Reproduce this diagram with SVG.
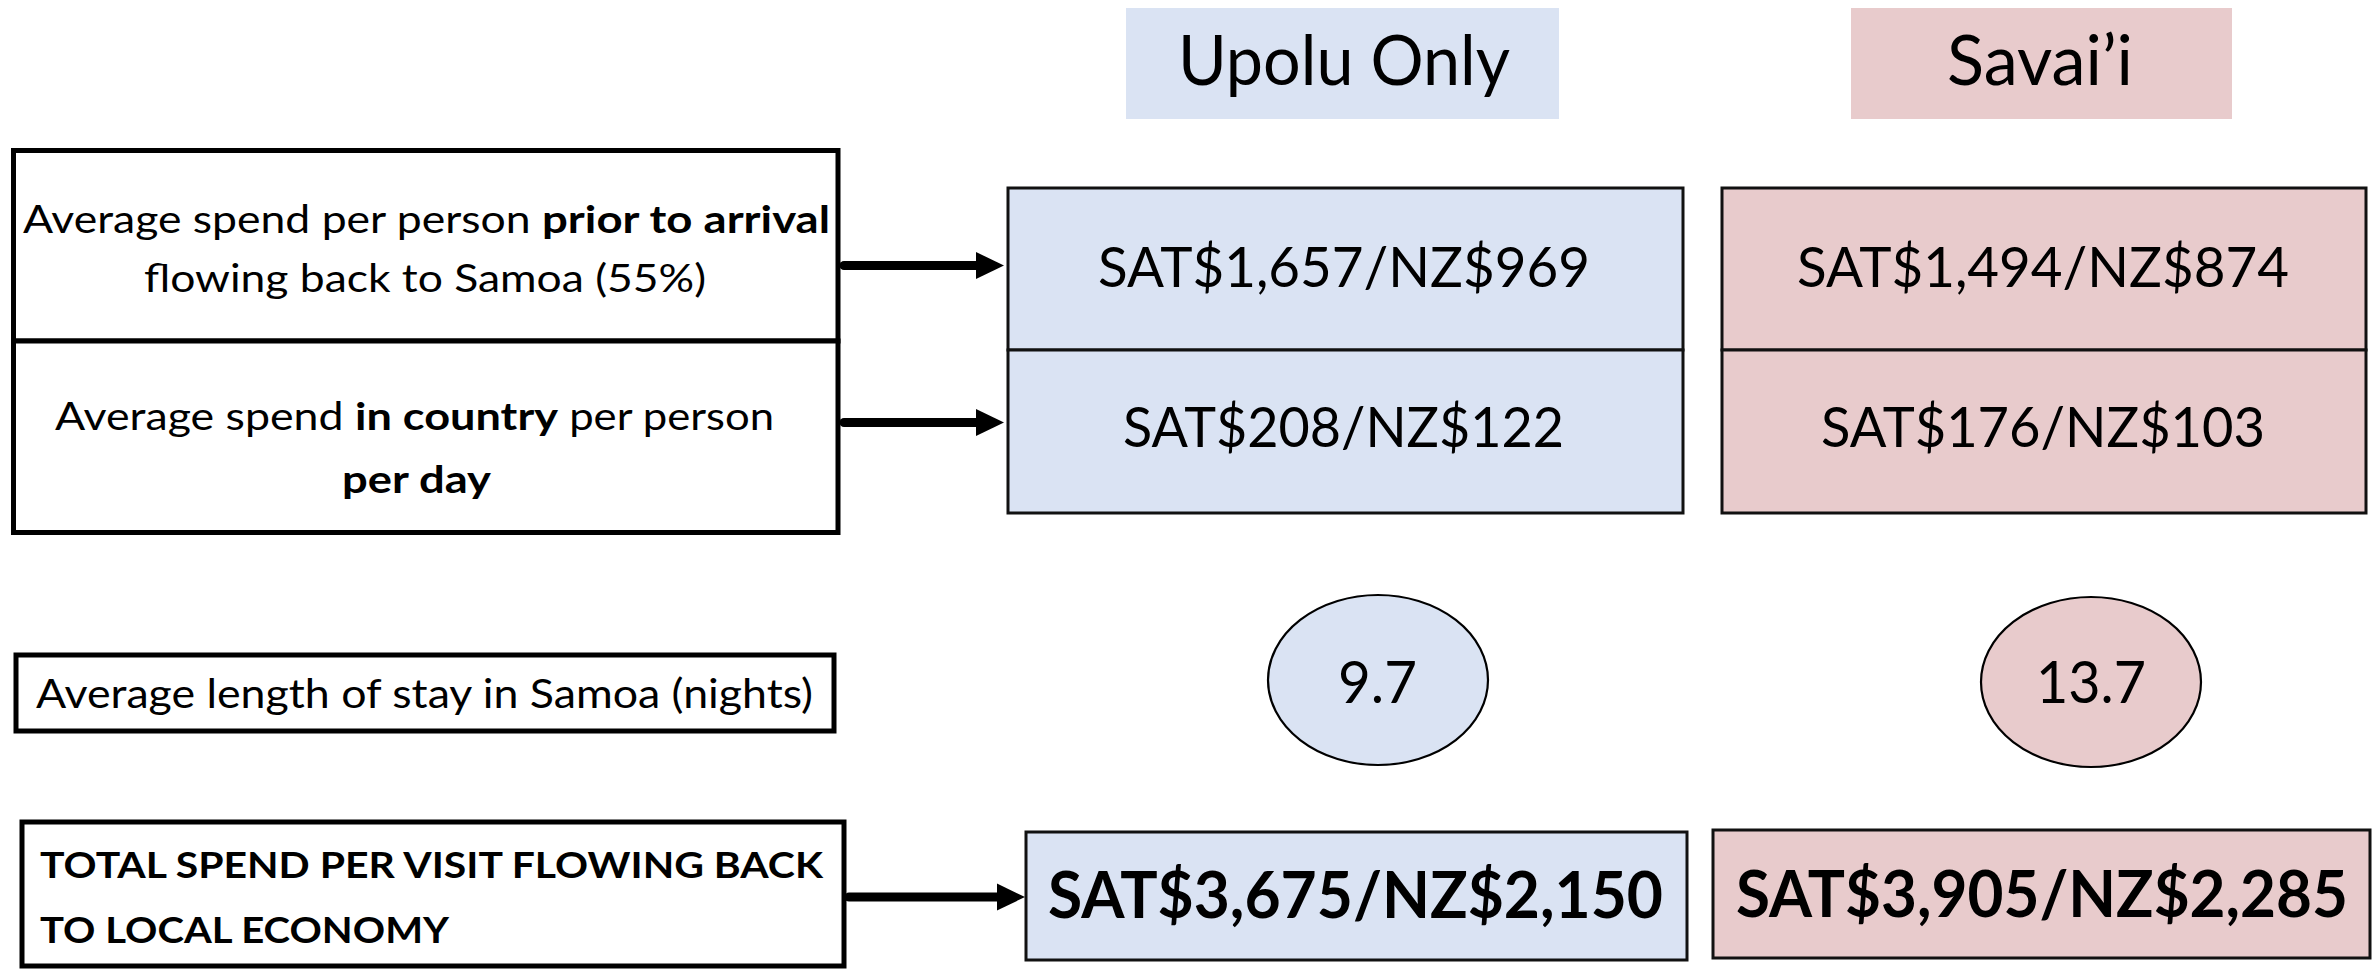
<svg xmlns="http://www.w3.org/2000/svg" width="2377" height="970" viewBox="0 0 2377 970">
<style>
text{font-family:Lato,"Liberation Sans",sans-serif;fill:#000}
.b{font-weight:bold}
.lbl{fill:#fff;stroke:#000;stroke-width:5}
.blue{fill:#DAE3F3}
.pink{fill:#E8CBCC}
.cell{stroke:#111;stroke-width:3}
.ell{stroke:#000;stroke-width:2.2}
.conn line{stroke:#000;stroke-width:9;stroke-linecap:round}
.conn polygon{fill:#000}
</style>
<rect width="2377" height="970" fill="#fff"/>

<g id="header-upolu">
<rect class="blue" x="1126" y="8" width="433" height="111"/>
<text x="1344" y="85" font-size="70" text-anchor="middle" textLength="332" lengthAdjust="spacingAndGlyphs">Upolu Only</text>
</g>
<g id="header-savaii">
<rect class="pink" x="1851" y="8" width="381" height="111"/>
<text x="2040" y="85" font-size="70" text-anchor="middle" textLength="186" lengthAdjust="spacingAndGlyphs">Savai’i</text>
</g>

<g id="label-prior">
<rect class="lbl" x="13.5" y="150.5" width="824.5" height="190.5"/>
<text y="233" font-size="38"><tspan x="23" textLength="519" lengthAdjust="spacingAndGlyphs">Average spend per person </tspan><tspan x="542" class="b" textLength="288" lengthAdjust="spacingAndGlyphs">prior to arrival</tspan></text>
<text x="425" y="292" font-size="38" text-anchor="middle" textLength="562" lengthAdjust="spacingAndGlyphs">flowing back to Samoa (55%)</text>
</g>
<g id="label-incountry">
<rect class="lbl" x="13.5" y="341" width="824.5" height="191.5"/>
<text y="430" font-size="38"><tspan x="55" textLength="300" lengthAdjust="spacingAndGlyphs">Average spend </tspan><tspan x="355" class="b" textLength="203" lengthAdjust="spacingAndGlyphs">in country</tspan><tspan x="558" textLength="216" lengthAdjust="spacingAndGlyphs"> per person</tspan></text>
<text x="416.5" y="493" font-size="38" class="b" text-anchor="middle" textLength="149" lengthAdjust="spacingAndGlyphs">per day</text>
</g>

<g id="upolu-prior">
<rect class="blue cell" x="1008" y="188" width="675" height="162"/>
<text x="1344" y="287" font-size="57" text-anchor="middle" textLength="492" lengthAdjust="spacingAndGlyphs">SAT$1,657/NZ$969</text>
</g>
<g id="upolu-incountry">
<rect class="blue cell" x="1008" y="350" width="675" height="163"/>
<text x="1343.5" y="447" font-size="57" text-anchor="middle" textLength="441" lengthAdjust="spacingAndGlyphs">SAT$208/NZ$122</text>
</g>
<g id="savaii-prior">
<rect class="pink cell" x="1722" y="188" width="644" height="162"/>
<text x="2043" y="287" font-size="57" text-anchor="middle" textLength="492" lengthAdjust="spacingAndGlyphs">SAT$1,494/NZ$874</text>
</g>
<g id="savaii-incountry">
<rect class="pink cell" x="1722" y="350" width="644" height="163"/>
<text x="2043" y="447" font-size="57" text-anchor="middle" textLength="444" lengthAdjust="spacingAndGlyphs">SAT$176/NZ$103</text>
</g>

<g id="label-stay">
<rect class="lbl" x="16" y="655" width="818" height="76"/>
<text x="424.5" y="708" font-size="40" text-anchor="middle" textLength="777" lengthAdjust="spacingAndGlyphs">Average length of stay in Samoa (nights)</text>
</g>
<g id="upolu-stay">
<ellipse class="blue ell" cx="1378" cy="680" rx="110" ry="85"/>
<text x="1377.5" y="703" font-size="58" text-anchor="middle" textLength="79" lengthAdjust="spacingAndGlyphs">9.7</text>
</g>
<g id="savaii-stay">
<ellipse class="pink ell" cx="2091" cy="682" rx="110" ry="85"/>
<text x="2091" y="703" font-size="58" text-anchor="middle" textLength="110" lengthAdjust="spacingAndGlyphs">13.7</text>
</g>

<g id="label-total">
<rect class="lbl" x="22" y="822" width="822" height="144"/>
<text x="40" y="878" font-size="37" class="b" textLength="783" lengthAdjust="spacingAndGlyphs">TOTAL SPEND PER VISIT FLOWING BACK</text>
<text x="40" y="943" font-size="37" class="b" textLength="409" lengthAdjust="spacingAndGlyphs">TO LOCAL ECONOMY</text>
</g>
<g id="upolu-total">
<rect class="blue cell" x="1026" y="832" width="661" height="128"/>
<text x="1355.5" y="918" font-size="65" class="b" text-anchor="middle" textLength="615" lengthAdjust="spacingAndGlyphs">SAT$3,675/NZ$2,150</text>
</g>
<g id="savaii-total">
<rect class="pink cell" x="1713" y="830" width="657" height="128"/>
<text x="2042" y="917" font-size="65" class="b" text-anchor="middle" textLength="612" lengthAdjust="spacingAndGlyphs">SAT$3,905/NZ$2,285</text>
</g>

<g id="connectors" class="conn">
<line x1="844" y1="265.5" x2="980" y2="265.5"/>
<polygon points="976,252 1004,265.5 976,279"/>
<line x1="844" y1="422.5" x2="980" y2="422.5"/>
<polygon points="976,409 1004,422.5 976,436"/>
<line x1="849" y1="897" x2="1000" y2="897"/>
<polygon points="997,883.5 1025,897 997,910.5"/>
</g>
</svg>
